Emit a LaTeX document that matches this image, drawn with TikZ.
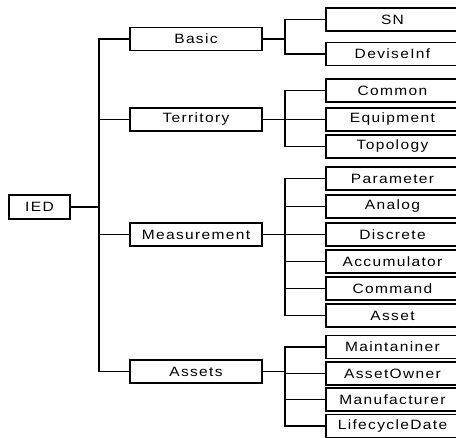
\documentclass[tikz,border=0pt]{standalone}
\usepackage{fontspec}
\setmainfont{Liberation Sans}[LetterSpace=10,FakeStretch=1.15]
\begin{document}
\begin{tikzpicture}[x=1pt,y=-1pt,
  box/.style={draw,line width=1.3pt,inner sep=0pt,font=\fontsize{13.5}{15}\selectfont},
  lone/.style={box,minimum width=61pt,minimum height=24pt},
  lvone/.style={box,minimum width=132pt,minimum height=23pt},
  lvtwo/.style={box,minimum width=133pt,minimum height=23pt},
  link/.style={line width=1.3pt}]
\useasboundingbox (0,0) rectangle (456,438);
\clip (0,0) rectangle (456,438);
\node[lone] (ied) at (39.5,207) {IED};
\node[lvone] (basic) at (196,39) {Basic};
\node[lvone] (terr) at (196,119.5) {Territory};
\node[lvone] (meas) at (196,234.5) {Measurement};
\node[lvone] (assets) at (196,371.5) {Assets};
\node[lvtwo] (sn) at (392.5,19.5) {SN};
\node[lvtwo] (dev) at (392.5,54) {DeviseInf};
\node[lvtwo] (common) at (392.5,90.5) {Common};
\node[lvtwo] (equip) at (392.5,119.5) {Equipment};
\node[lvtwo] (topo) at (392.5,146.5) {Topology};
\node[lvtwo] (param) at (392.5,178.5) {Parameter};
\node[lvtwo] (analog) at (392.5,206.5) {Analog};
\node[lvtwo] (disc) at (392.5,234.5) {Discrete};
\node[lvtwo] (accu) at (392.5,261.5) {Accumulator};
\node[lvtwo] (cmd) at (392.5,288.5) {Command};
\node[lvtwo] (asset) at (392.5,315.5) {Asset};
\node[lvtwo] (maint) at (392.5,347) {Maintaniner};
\node[lvtwo] (owner) at (392.5,373.5) {AssetOwner};
\node[lvtwo] (manu) at (392.5,399.5) {Manufacturer};
\node[lvtwo] (life) at (392.5,426) {LifecycleDate};
% level 1 trunk
\coordinate (t0) at (99,207);
\draw[link] (ied.east) -- (t0);
\draw[link] (basic.west) -| (t0);
\draw[link] (assets.west) -| (t0);
\draw[link] (terr.west) -- (terr.west -| t0);
\draw[link] (meas.west) -- (meas.west -| t0);
% level 2 branches
\coordinate (b) at (285,0);
\draw[link] (basic.east) -- (basic.east -| b);
\draw[link] (sn.west) -| (b |- dev.west) -- (dev.west);
\draw[link] (terr.east) -- (terr.east -| b);
\draw[link] (common.west) -| (b |- topo.west) -- (topo.west);
\draw[link] (equip.west) -- (equip.west -| b);
\draw[link] (meas.east) -- (meas.east -| b);
\draw[link] (param.west) -| (b |- asset.west) -- (asset.west);
\foreach \n in {analog,disc,accu,cmd} \draw[link] (\n.west) -- (\n.west -| b);
\draw[link] (assets.east) -- (assets.east -| b);
\draw[link] (maint.west) -| (b |- life.west) -- (life.west);
\foreach \n in {owner,manu} \draw[link] (\n.west) -- (\n.west -| b);
\end{tikzpicture}
\end{document}
